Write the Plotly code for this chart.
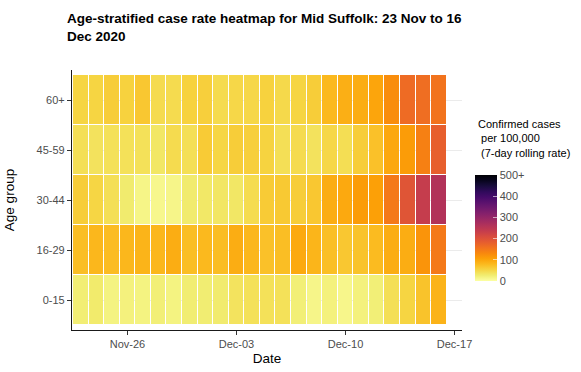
import pandas as pd
import plotly.graph_objects as go

dates = pd.date_range("2020-11-23", "2020-12-16", freq="D").strftime("%Y-%m-%d").tolist()
age_groups = ["0-15", "16-29", "30-44", "45-59", "60+"]

rate_0_15 = [25, 29, 18, 20, 18, 23, 18, 26, 26, 28, 37, 40, 40, 40, 23, 14, 20, 13, 20, 23, 42, 53, 70, 86]
rate_16_29 = [75, 82, 77, 82, 85, 82, 92, 75, 80, 76, 92, 82, 72, 75, 96, 84, 74, 66, 70, 78, 92, 92, 118, 148]
rate_30_44 = [60, 52, 42, 28, 15, 12, 14, 28, 32, 34, 33, 45, 62, 64, 60, 66, 92, 96, 110, 105, 148, 195, 235, 262]
rate_45_59 = [42, 38, 40, 40, 40, 33, 46, 42, 62, 52, 60, 58, 55, 42, 46, 38, 50, 43, 60, 72, 97, 110, 140, 180]
rate_60_plus = [53, 53, 60, 56, 66, 46, 46, 56, 58, 46, 50, 50, 56, 48, 53, 60, 80, 90, 92, 100, 125, 165, 162, 155]

x_ticks = ["2020-11-26", "2020-12-03", "2020-12-10", "2020-12-17"]
x_tick_labels = ["Nov-26", "Dec-03", "Dec-10", "Dec-17"]
cb_ticks = [0, 100, 200, 300, 400, 500]
cb_tick_labels = ["0", "100", "200", "300", "400", "500+"]

# viridis "inferno" palette (20 steps), reversed: 0 -> pale yellow, 500 -> black
inferno20 = ["#000004", "#08051E", "#190C3E", "#300A5B", "#460B6A", "#5C126E", "#711A6E",
             "#87216B", "#9C2964", "#B1325A", "#C43C4E", "#D74B3F", "#E55C30", "#F1711F",
             "#F8870E", "#FCA007", "#FBBA1F", "#F6D543", "#F1ED71", "#FCFFA4"]
colorscale = [[i / (len(inferno20) - 1), c] for i, c in enumerate(reversed(inferno20))]

z = [rate_0_15, rate_16_29, rate_30_44, rate_45_59, rate_60_plus]

W, H = 581, 372
L, R, T, B = 72, 462, 70, 330
PW, PH = R - L, B - T


def px_x(p):
    return (p - L) / PW


def px_y(p):
    return (B - p) / PH


fig = go.Figure(
    go.Heatmap(
        x=dates,
        y=age_groups,
        z=z,
        zmin=0,
        zmax=500,
        colorscale=colorscale,
        xgap=1,
        ygap=1,
        colorbar=dict(
            x=px_x(475),
            xanchor="left",
            y=px_y(175),
            yanchor="top",
            thickness=22,
            thicknessmode="pixels",
            len=106,
            lenmode="pixels",
            xpad=0,
            ypad=0,
            outlinewidth=0,
            tickvals=cb_ticks,
            ticktext=cb_tick_labels,
            ticks="inside",
            ticklen=4,
            tickcolor="rgba(255,255,255,0.6)",
            tickfont=dict(family="Liberation Sans, Arial", size=11, color="#4D4D4D"),
        ),
        hovertemplate="%{x}<br>%{y}: %{z}<extra></extra>",
    )
)

fig.update_layout(
    width=W,
    height=H,
    margin=dict(l=L, r=W - R, t=T, b=H - B, autoexpand=False),
    plot_bgcolor="white",
    paper_bgcolor="white",
    font=dict(family="Liberation Sans, Arial", color="#000000"),
    annotations=[
        dict(
            text="<b>Age-stratified case rate heatmap for Mid Suffolk: 23 Nov to 16<br>Dec 2020</b>",
            xref="paper", yref="paper", x=px_x(65), xanchor="left",
            y=px_y(28), yanchor="middle", showarrow=False, align="left",
            font=dict(size=13.5, color="#000000"),
        ),
        dict(
            text="Confirmed cases<br>\u00a0per 100,000<br>\u00a0(7-day rolling rate)",
            xref="paper", yref="paper", x=px_x(476), xanchor="left",
            y=px_y(138.5), yanchor="middle", showarrow=False,
            align="left",
            font=dict(size=11, color="#000000"),
        ),
    ],
)

fig.update_xaxes(
    type="date",
    range=["2020-11-22 10:30", "2020-12-17 11:30"],
    tickvals=x_ticks,
    ticktext=x_tick_labels,
    ticks="outside",
    ticklen=4,
    tickcolor="#333333",
    tickfont=dict(size=11, color="#4D4D4D"),
    showline=True,
    linecolor="#1a1a1a",
    linewidth=1.2,
    showgrid=False,
    zeroline=False,
    title=dict(text="Date", font=dict(size=13.5, color="#000000"), standoff=4),
    automargin=False,
)

fig.update_yaxes(
    type="category",
    categoryorder="array",
    categoryarray=age_groups,
    range=[-0.6, 4.6],
    ticks="outside",
    ticklen=4,
    tickcolor="#333333",
    tickfont=dict(size=11, color="#4D4D4D"),
    showline=True,
    linecolor="#1a1a1a",
    linewidth=1.2,
    showgrid=True,
    gridcolor="#EBEBEB",
    gridwidth=1,
    zeroline=False,
    title=dict(text="Age group", font=dict(size=13.5, color="#000000"), standoff=18),
    automargin=False,
)

fig.write_html(
    "out.html",
    config={"displayModeBar": False},
    post_script="document.body.style.margin='0';document.body.style.overflow='hidden';",
)
